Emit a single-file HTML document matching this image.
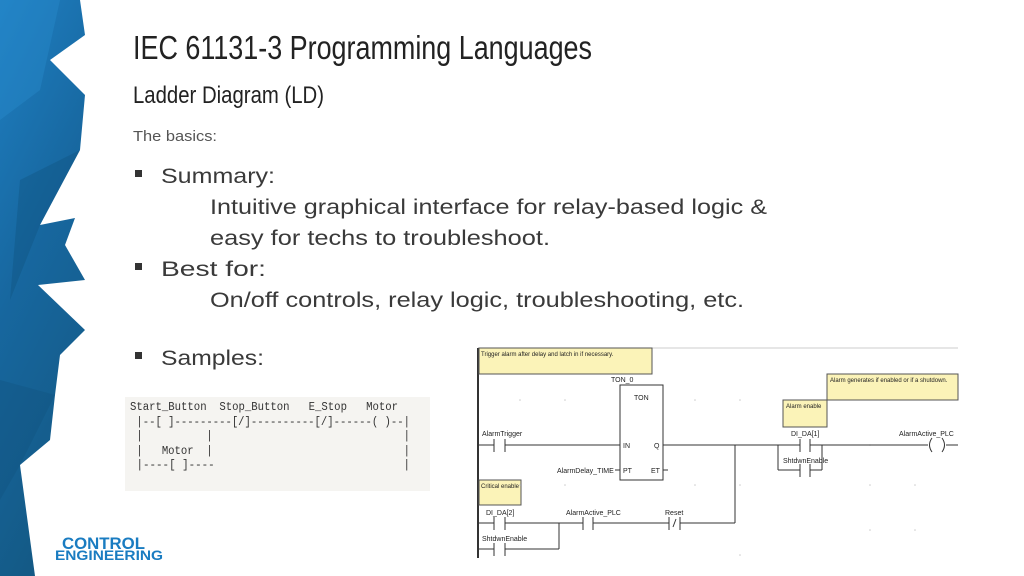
<!DOCTYPE html>
<html><head><meta charset="utf-8"><style>
html,body{margin:0;padding:0;background:#fff;}
svg{display:block;}
.pre{white-space:pre;}
</style></head><body>
<svg width="1024" height="576" viewBox="0 0 1024 576" xmlns="http://www.w3.org/2000/svg">
<defs>
<linearGradient id="bg" x1="0" y1="0" x2="0.3" y2="1">
<stop offset="0" stop-color="#1f7fc2"/><stop offset="0.5" stop-color="#17679f"/><stop offset="1" stop-color="#145a86"/>
</linearGradient>
</defs>
<polygon fill="url(#bg)" points="0,0 80,0 85,35 50,60 85,95 80,150 40,225 75,218 65,245 85,280 38,285 85,330 60,355 55,395 50,440 20,465 35,576 0,576"/>
<polygon fill="#2a8fd0" opacity="0.35" points="0,0 60,0 40,90 0,120"/>
<polygon fill="#0f4f7a" opacity="0.35" points="20,180 80,150 40,225 10,300"/>
<polygon fill="#0f4f7a" opacity="0.3" points="0,380 55,395 20,465 0,500"/>

<g font-family="'Liberation Sans Narrow','Liberation Sans',sans-serif" fill="#222">
<text x="133" y="59" font-size="33" textLength="459" lengthAdjust="spacingAndGlyphs">IEC 61131-3 Programming Languages</text>
<text x="133" y="103" font-size="24" textLength="191" lengthAdjust="spacingAndGlyphs">Ladder Diagram (LD)</text>
</g>
<g font-family="'Liberation Sans',sans-serif" fill="#3a3a3a">
<text x="133" y="141" font-size="15" fill="#555" textLength="84" lengthAdjust="spacingAndGlyphs">The basics:</text>
<rect x="135" y="170" width="7" height="7" fill="#333"/>
<text x="161" y="183" font-size="21" textLength="114" lengthAdjust="spacingAndGlyphs">Summary:</text>
<text x="210" y="214" font-size="21" textLength="557" lengthAdjust="spacingAndGlyphs">Intuitive graphical interface for relay-based logic &amp;</text>
<text x="210" y="245" font-size="21" textLength="340" lengthAdjust="spacingAndGlyphs">easy for techs to troubleshoot.</text>
<rect x="135" y="263" width="7" height="7" fill="#333"/>
<text x="161" y="276" font-size="21" textLength="105" lengthAdjust="spacingAndGlyphs">Best for:</text>
<text x="210" y="307" font-size="21" textLength="534" lengthAdjust="spacingAndGlyphs">On/off controls, relay logic, troubleshooting, etc.</text>
<rect x="135" y="352" width="7" height="7" fill="#333"/>
<text x="161" y="365" font-size="21" textLength="103" lengthAdjust="spacingAndGlyphs">Samples:</text>
</g>

<rect x="125" y="397" width="305" height="94" fill="#f5f4f1"/>
<g font-family="'Liberation Mono',monospace" font-size="11.5" fill="#333">
<text class="pre" x="130" y="410" textLength="268" lengthAdjust="spacingAndGlyphs">Start_Button  Stop_Button   E_Stop   Motor</text>
<text class="pre" x="130" y="425" textLength="280" lengthAdjust="spacingAndGlyphs"> |--[ ]---------[/]----------[/]------( )--|</text>
<text class="pre" x="130" y="439" textLength="280" lengthAdjust="spacingAndGlyphs"> |          |                              |</text>
<text class="pre" x="130" y="454" textLength="280" lengthAdjust="spacingAndGlyphs"> |   Motor  |                              |</text>
<text class="pre" x="130" y="468" textLength="280" lengthAdjust="spacingAndGlyphs"> |----[ ]----                             |</text>
</g>

<g font-family="'Liberation Sans',sans-serif" font-weight="bold" fill="#1a7cc1">
<text x="62" y="549" font-size="17" textLength="83" lengthAdjust="spacingAndGlyphs">CONTROL</text>
<text x="55" y="560" font-size="14" textLength="108" lengthAdjust="spacingAndGlyphs">ENGINEERING</text>
</g>

<!-- Ladder diagram -->
<g stroke="#333" stroke-width="1" fill="none">
<line x1="478" y1="348" x2="958" y2="348" stroke="#ccc"/>
<line x1="478" y1="348" x2="478" y2="558" stroke-width="2"/>
</g>
<g fill="#fbf3b8" stroke="#555" stroke-width="1">
<rect x="479" y="348" width="173" height="26"/>
<rect x="827" y="374" width="131" height="26"/>
<rect x="783" y="400" width="44" height="27"/>
<rect x="479" y="480" width="42" height="25"/>
</g>
<g fill="#ccc">
<circle cx="520" cy="400" r="0.8"/><circle cx="565" cy="400" r="0.8"/><circle cx="695" cy="400" r="0.8"/><circle cx="740" cy="400" r="0.8"/>
<circle cx="520" cy="485" r="0.8"/><circle cx="565" cy="485" r="0.8"/><circle cx="695" cy="485" r="0.8"/><circle cx="740" cy="485" r="0.8"/><circle cx="870" cy="485" r="0.8"/><circle cx="915" cy="485" r="0.8"/>
<circle cx="870" cy="445" r="0.8"/><circle cx="870" cy="530" r="0.8"/><circle cx="915" cy="530" r="0.8"/><circle cx="740" cy="555" r="0.8"/>
</g>
<g stroke="#333" stroke-width="1" fill="none">
<rect x="620" y="385" width="43" height="95"/>
<line x1="478" y1="445" x2="494" y2="445"/><line x1="494" y1="439" x2="494" y2="452"/><line x1="505" y1="439" x2="505" y2="452"/>
<line x1="505" y1="445" x2="620" y2="445"/>
<line x1="663" y1="445" x2="778" y2="445"/>
<line x1="663" y1="470" x2="668" y2="470"/>
<line x1="615" y1="470" x2="620" y2="470"/>
<line x1="735" y1="445" x2="735" y2="523"/>
<line x1="778" y1="445" x2="778" y2="470"/><line x1="822" y1="445" x2="822" y2="470"/>
<line x1="778" y1="445" x2="800" y2="445"/><line x1="810" y1="445" x2="822" y2="445"/>
<line x1="778" y1="470" x2="800" y2="470"/><line x1="810" y1="470" x2="822" y2="470"/>
<line x1="800" y1="439" x2="800" y2="452"/><line x1="810" y1="439" x2="810" y2="452"/>
<line x1="800" y1="464" x2="800" y2="477"/><line x1="810" y1="464" x2="810" y2="477"/>
<line x1="822" y1="445" x2="928" y2="445"/>
<path d="M932 438 Q927 445 932 452"/><path d="M942 438 Q947 445 942 452"/>
<line x1="946" y1="445" x2="958" y2="445"/>
<line x1="478" y1="523" x2="494" y2="523"/><line x1="494" y1="517" x2="494" y2="530"/><line x1="505" y1="517" x2="505" y2="530"/>
<line x1="505" y1="523" x2="583" y2="523"/>
<line x1="478" y1="549" x2="494" y2="549"/><line x1="494" y1="543" x2="494" y2="556"/><line x1="505" y1="543" x2="505" y2="556"/>
<line x1="505" y1="549" x2="559" y2="549"/><line x1="559" y1="523" x2="559" y2="549"/>
<line x1="583" y1="517" x2="583" y2="530"/><line x1="593" y1="517" x2="593" y2="530"/>
<line x1="593" y1="523" x2="669" y2="523"/>
<line x1="669" y1="517" x2="669" y2="530"/><line x1="680" y1="517" x2="680" y2="530"/>
<line x1="673" y1="527" x2="676" y2="519"/>
<line x1="680" y1="523" x2="735" y2="523"/>
</g>
<g font-family="'Liberation Sans',sans-serif" font-size="7" fill="#222">
<text x="481" y="356" font-size="6">Trigger alarm after delay and latch in if necessary.</text>
<text x="830" y="382" font-size="6">Alarm generates if enabled or if a shutdown.</text>
<text x="786" y="408" font-size="6">Alarm enable</text>
<text x="481" y="488" font-size="6">Critical enable</text>
<text x="611" y="382">TON_0</text>
<text x="634" y="400">TON</text>
<text x="623" y="448">IN</text>
<text x="654" y="448">Q</text>
<text x="623" y="473">PT</text>
<text x="651" y="473">ET</text>
<text x="557" y="473">AlarmDelay_TIME</text>
<text x="482" y="436">AlarmTrigger</text>
<text x="791" y="436">DI_DA[1]</text>
<text x="783" y="463">ShtdwnEnable</text>
<text x="899" y="436">AlarmActive_PLC</text>
<text x="486" y="515">DI_DA[2]</text>
<text x="482" y="541">ShtdwnEnable</text>
<text x="566" y="515">AlarmActive_PLC</text>
<text x="665" y="515">Reset</text>
</g>
</svg>
</body></html>
